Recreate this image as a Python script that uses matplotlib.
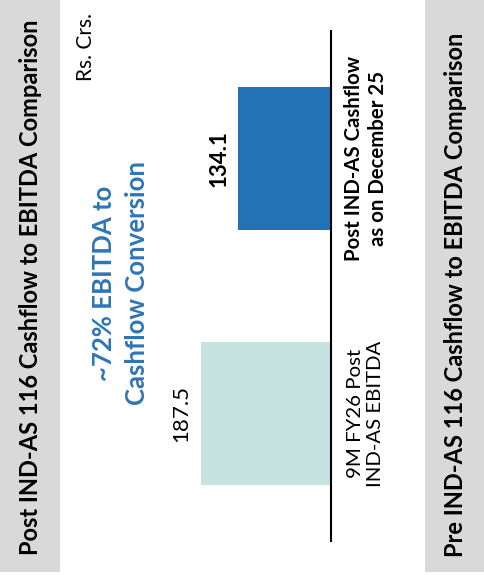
import matplotlib.pyplot as plt
from matplotlib.patches import Rectangle

categories = ["9M FY26 Post\nIND-AS EBITDA", "Post IND-AS Cashflow\nas on December 25"]
values = [187.5, 134.1]
bar_colors = ["#C6E3E2", "#2372B8"]
label_bold = [False, True]

left_title = "Post IND-AS 116 Cashflow to EBITDA Comparison"
right_title = "Pre IND-AS 116 Cashflow to EBITDA Comparison"
note = "~72% EBITDA to\nCashflow Conversion"
unit = "Rs. Crs."

W, H = 485, 575
plt.rcParams['font.family'] = ['Lato', 'DejaVu Sans']

fig = plt.figure(figsize=(W / 100, H / 100), dpi=100)

# gray side strips (figure pixel coords -> fraction)
def fx(px):
    return px / W

def fy(py):
    return 1 - py / H

for x0 in (0, 425):
    fig.patches.append(Rectangle((fx(x0), fy(572)), fx(60), 572 / H,
                                 transform=fig.transFigure,
                                 facecolor="#D9D9D9", edgecolor="none"))
fig.text(fx(31), fy(287), left_title, rotation=90, ha="center", va="center",
         fontsize=17, fontweight="bold")
fig.text(fx(456), fy(295), right_title, rotation=90, ha="center", va="center",
         fontsize=17, fontweight="bold")

# bar axes: baseline on the right edge at x=331
ax = fig.add_axes([fx(60), fy(541), fx(331 - 60), (541 - 31) / H])
ypos = list(range(len(values)))
ax.barh(ypos, values, height=0.56, color=bar_colors)
ax.set_xlim(391, 0)
ax.set_ylim(-0.5, 1.5)
for s in ("left", "top", "bottom"):
    ax.spines[s].set_visible(False)
ax.spines["right"].set_linewidth(1.5)
ax.set_xticks([])
ax.set_yticks([])
ax.patch.set_alpha(0)

for y, v, b, cat in zip(ypos, values, label_bold, categories):
    w = "bold" if b else "normal"
    ax.annotate(f"{v:.1f}", (v, y), xytext=(-14, 0), textcoords="offset points",
                rotation=90, ha="center", va="center", fontsize=16, fontweight=w)
    ax.annotate(cat, (0, y), xytext=(25, 0), textcoords="offset points",
                rotation=90, ha="center", va="center", fontsize=14.7, fontweight=w,
                linespacing=1.25)

fig.text(fx(86), fy(47), unit, rotation=90, ha="center", va="center", fontsize=15)
fig.text(fx(121), fy(283), note, rotation=90, ha="center", va="center",
         fontsize=18.5, fontweight="bold", color="#2E75B6", linespacing=1.45)

fig.savefig("out.png", dpi=100)
